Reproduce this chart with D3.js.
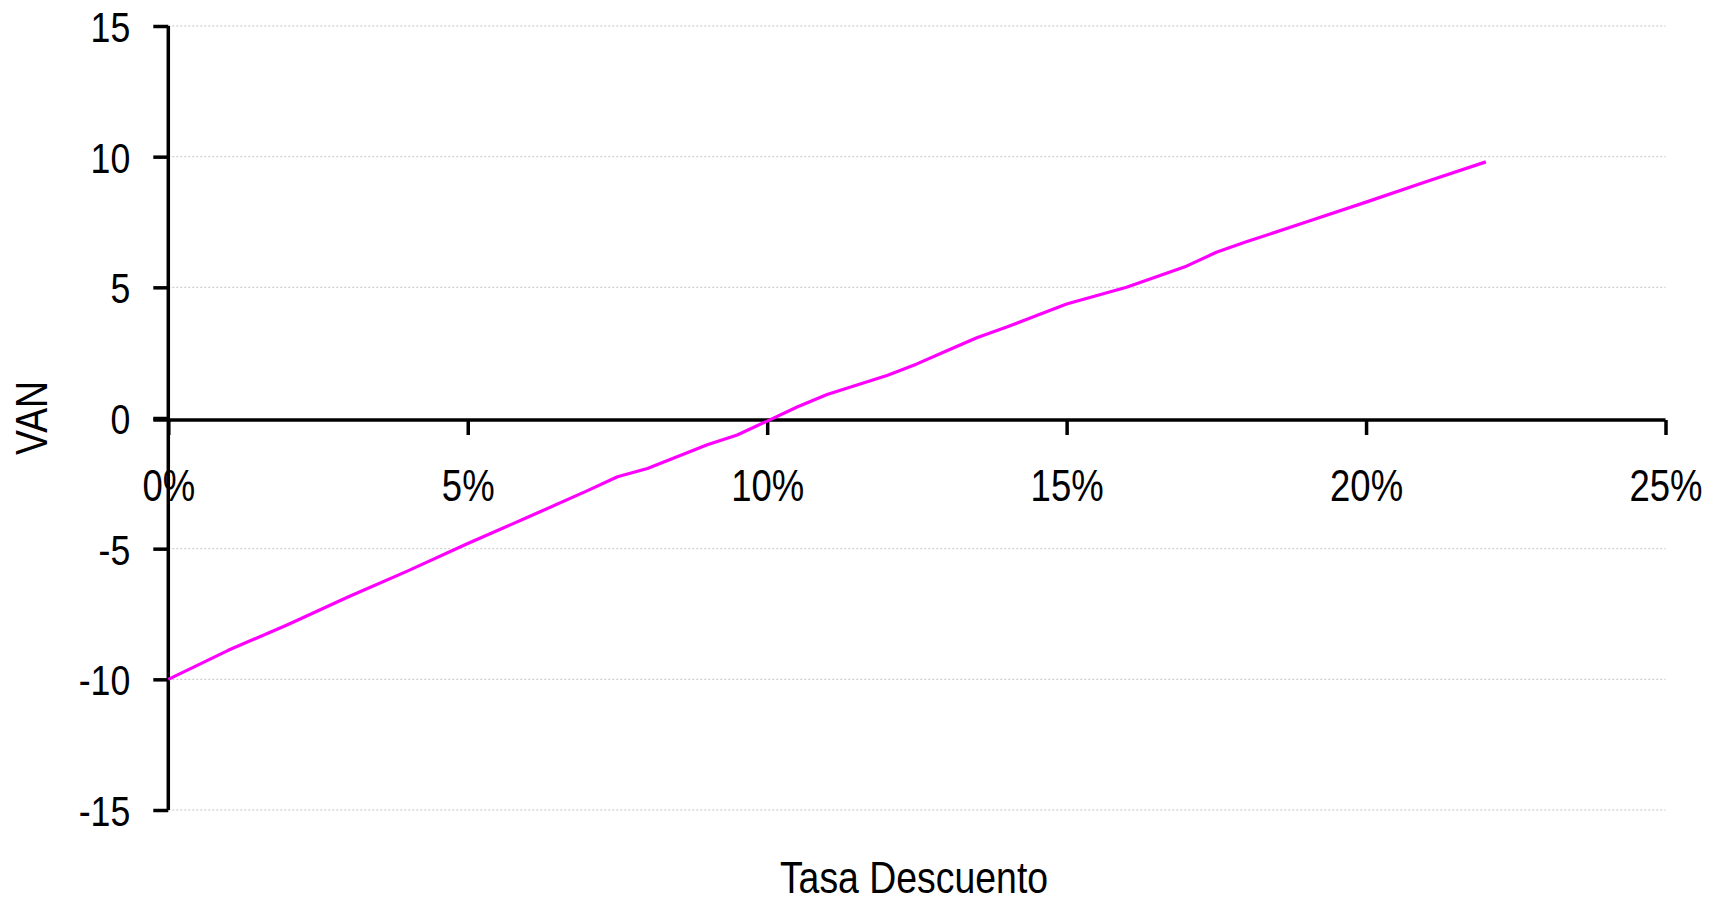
<!DOCTYPE html>
<html>
<head>
<meta charset="utf-8">
<script src="https://cdn.jsdelivr.net/npm/d3@7"></script>
<style>
  html, body { margin: 0; padding: 0; background: #fff; }
  svg { display: block; }
  text { font-family: "Liberation Sans Narrow", "Arial Narrow", "Liberation Sans", Arial, sans-serif; fill: #000; }
</style>
</head>
<body>
<svg id="chart" width="1714" height="903"></svg>
<script>
// Data (discount rate, NPV)
const rates = [0, 0.01, 0.02, 0.03, 0.04, 0.05, 0.06, 0.07, 0.075, 0.08, 0.09, 0.095, 0.10, 0.105, 0.11, 0.12, 0.125, 0.13, 0.135, 0.14, 0.145, 0.15, 0.16, 0.17, 0.175, 0.18, 0.19, 0.20, 0.21, 0.22];
const van   = [-10.0, -8.89, -7.9, -6.85, -5.85, -4.8, -3.8, -2.78, -2.25, -1.93, -1.02, -0.65, -0.12, 0.42, 0.9, 1.63, 2.07, 2.57, 3.07, 3.48, 3.92, 4.36, 5.0, 5.81, 6.34, 6.74, 7.5, 8.26, 9.04, 9.8];
const xTicks = [0, 0.05, 0.10, 0.15, 0.20, 0.25];
const yTicks = [-15, -10, -5, 0, 5, 10, 15];
const xTitle = "Tasa Descuento";
const yTitle = "VAN";

const narrow = 0.83; // emulate a condensed face
const svg = d3.select("#chart");
const x = d3.scaleLinear().domain([0, 0.25]).range([168.3, 1665.5]);
const y = d3.scaleLinear().domain([-15, 15]).range([810, 26]);

// Gridlines
svg.append("g")
  .selectAll("line")
  .data(yTicks.filter(d => d !== 0))
  .join("line")
  .attr("x1", x(0)).attr("x2", x(0.25))
  .attr("y1", d => y(d)).attr("y2", d => y(d))
  .attr("stroke", "#c4c4c4").attr("stroke-width", 1)
  .attr("stroke-dasharray", "2,2");

// Y axis
const yAxis = d3.axisLeft(y).tickValues(yTicks).tickSize(15).tickPadding(22).tickFormat(d => String(d));
const gy = svg.append("g").attr("transform", `translate(${x(0)},0)`).call(yAxis);
gy.select(".domain").attr("stroke", "#000").attr("stroke-width", 3.5).attr("d", `M0,${y(15)}V${y(-15)}`);
gy.selectAll(".tick line").attr("stroke", "#000").attr("stroke-width", 3.5);
gy.selectAll(".tick text")
  .attr("font-size", 43).attr("font-family", null).attr("fill", "#000")
  .attr("x", 0).attr("dy", "0.36em")
  .attr("transform", `translate(-38,0) scale(${narrow},1)`);

// X axis crossing at zero
const xAxis = d3.axisBottom(x).tickValues(xTicks).tickSize(15).tickPadding(35).tickFormat(d => Math.round(d * 100) + "%");
const gx = svg.append("g").attr("transform", `translate(0,${y(0) + 2})`).call(xAxis);
gx.select(".domain").attr("stroke", "#000").attr("stroke-width", 3.5).attr("d", `M${x(0) - 15},0H${x(0.25)}`);
gx.selectAll(".tick line").attr("stroke", "#000").attr("stroke-width", 3.5);
gx.selectAll(".tick text")
  .attr("font-size", 44).attr("font-family", null).attr("fill", "#000")
  .attr("transform", `scale(${narrow},1)`);

// Line
const line = d3.line().x((d, i) => x(rates[i])).y(d => y(d));
svg.append("path")
  .datum(van)
  .attr("d", line)
  .attr("fill", "none")
  .attr("stroke", "#ff00ff")
  .attr("stroke-width", 3.2)
  .attr("stroke-linejoin", "round");

// Titles
svg.append("text")
  .attr("transform", `translate(914,893) scale(${narrow + 0.02},1)`)
  .attr("text-anchor", "middle")
  .attr("font-size", 44)
  .text(xTitle);

svg.append("text")
  .attr("transform", `translate(47,418) rotate(-90) scale(${narrow},1)`)
  .attr("text-anchor", "middle")
  .attr("font-size", 45)
  .text(yTitle);
</script>
</body>
</html>
